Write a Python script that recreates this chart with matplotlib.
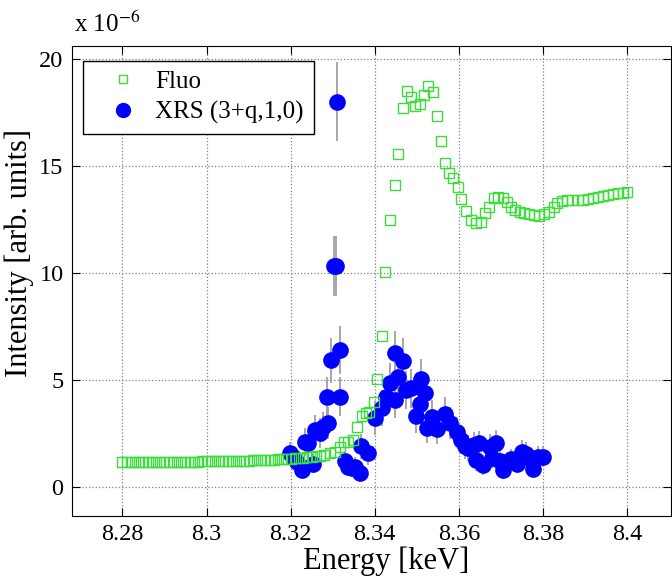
import matplotlib
matplotlib.use("Agg")
import matplotlib.pyplot as plt
from matplotlib.lines import Line2D

plt.rcParams['font.family'] = ['Liberation Serif', 'DejaVu Serif']
plt.rcParams['mathtext.fontset'] = 'stix'

# fluorescence yield (x 1e-6), energies in keV
fluo_e = [8.280, 8.281, 8.282, 8.283, 8.284, 8.285, 8.286, 8.287, 8.288, 8.289,
          8.290, 8.291, 8.292, 8.293, 8.294, 8.295, 8.296, 8.297, 8.298, 8.299,
          8.300, 8.301, 8.302, 8.303, 8.304, 8.305, 8.306, 8.307, 8.308, 8.309,
          8.310, 8.311, 8.312, 8.313, 8.314, 8.315, 8.316, 8.317, 8.318, 8.319,
          8.320, 8.321, 8.322, 8.323, 8.324, 8.325, 8.326, 8.327, 8.328,
          8.3294, 8.3305, 8.3317, 8.3327, 8.3337, 8.3349, 8.3357, 8.3369, 8.3378,
          8.3387, 8.3398, 8.3405, 8.3416, 8.3424, 8.3436, 8.3448, 8.3456, 8.3467,
          8.3477, 8.3486, 8.3496, 8.3507, 8.3518, 8.3527, 8.3538, 8.3548, 8.3558,
          8.3568, 8.3576, 8.3586, 8.3597, 8.3606, 8.3617, 8.3629, 8.3640, 8.3652,
          8.3662, 8.3672, 8.3684, 8.3693, 8.3704, 8.3714, 8.3724, 8.3734, 8.3745,
          8.3755, 8.3767, 8.3779, 8.3791, 8.3802, 8.3814, 8.3825, 8.3834, 8.3846,
          8.3858, 8.3870, 8.3882, 8.3894, 8.3906, 8.3918, 8.3930, 8.3942, 8.3954,
          8.3966, 8.3978, 8.3990, 8.3999]
fluo_i = [1.15, 1.15, 1.16, 1.15, 1.16, 1.16, 1.17, 1.16, 1.17, 1.17,
          1.17, 1.18, 1.17, 1.18, 1.18, 1.18, 1.19, 1.19, 1.19, 1.20,
          1.20, 1.20, 1.21, 1.21, 1.21, 1.22, 1.22, 1.23, 1.23, 1.24,
          1.24, 1.25, 1.25, 1.26, 1.27, 1.27, 1.28, 1.29, 1.30, 1.31,
          1.32, 1.34, 1.35, 1.37, 1.39, 1.41, 1.44, 1.47, 1.51,
          1.57, 1.65, 1.88, 2.10, 2.12, 2.20, 2.82, 3.32, 3.46,
          3.52, 3.99, 5.03, 7.07, 10.05, 12.48, 14.11, 15.56, 17.70,
          18.49, 18.24, 17.80, 17.90, 18.32, 18.75, 18.46, 17.34, 16.17,
          15.13, 14.66, 14.43, 14.00, 13.44, 12.91, 12.48, 12.32, 12.40,
          12.79, 13.10, 13.49, 13.54, 13.49, 13.33, 13.10, 12.94, 12.87,
          12.82, 12.76, 12.71, 12.68, 12.76, 12.87, 13.07, 13.26, 13.38,
          13.40, 13.41, 13.41, 13.43, 13.45, 13.48, 13.53, 13.60, 13.64,
          13.68, 13.72, 13.75, 13.76]

# resonant scattering (3+q,1,0) with error bars
xrs_e = [8.3198, 8.3206, 8.3214, 8.3226, 8.3233, 8.3241, 8.3252, 8.3257, 8.3269,
         8.3277, 8.3287, 8.3289, 8.3297, 8.3302, 8.3309, 8.3310, 8.3317, 8.3317,
         8.3329, 8.3337, 8.3345, 8.3352, 8.3364, 8.3368, 8.3384, 8.3400, 8.3416,
         8.3426, 8.3436, 8.3448, 8.3448, 8.3456, 8.3467, 8.3475, 8.3487, 8.3497,
         8.3507, 8.3509, 8.3519, 8.3525, 8.3536, 8.3548, 8.3568, 8.3579, 8.3595,
         8.3606, 8.3614, 8.3621, 8.3635, 8.3640, 8.3648, 8.3657, 8.3674, 8.3678,
         8.3688, 8.3698, 8.3706, 8.3723, 8.3739, 8.3749, 8.3760, 8.3768, 8.3777,
         8.3789, 8.3801]
xrs_i = [1.57, 1.42, 1.18, 0.79, 2.12, 2.04, 1.10, 2.66, 2.51,
         2.82, 4.22, 3.00, 5.93, 10.33, 10.33, 18.00, 6.40, 4.22,
         1.20, 0.95, 0.87, 0.95, 0.66, 1.90, 1.57, 3.22, 3.69,
         4.22, 4.86, 6.25, 4.07, 5.14, 5.90, 4.53, 4.61, 3.32,
         3.86, 5.05, 4.41, 2.74, 3.26, 2.70, 3.40, 2.98, 2.58,
         2.20, 1.90, 1.81, 1.96, 1.26, 2.04, 1.03, 1.88, 1.38,
         2.05, 1.22, 0.79, 1.30, 1.10, 1.65, 1.55, 1.34, 0.85,
         1.42, 1.42]
xrs_err = [0.55, 0.5, 0.5, 0.4, 0.65, 0.6, 0.45, 0.7, 0.7,
           0.7, 0.9, 0.75, 1.05, 1.4, 1.4, 1.85, 1.1, 0.9,
           0.5, 0.45, 0.4, 0.45, 0.35, 0.6, 0.55, 0.8, 0.85,
           0.9, 0.95, 1.05, 0.85, 1.0, 1.05, 0.9, 0.9, 0.8,
           0.85, 0.95, 0.9, 0.7, 0.8, 0.7, 0.8, 0.75, 0.7,
           0.65, 0.6, 0.6, 0.6, 0.5, 0.6, 0.45, 0.6, 0.5,
           0.6, 0.5, 0.4, 0.5, 0.45, 0.55, 0.55, 0.5, 0.4,
           0.5, 0.5]

fig = plt.figure(figsize=(6.72, 5.83), dpi=100)
ax = fig.add_axes([0.107, 0.115, 0.892, 0.806])

ax.errorbar(xrs_e, xrs_i, yerr=xrs_err, fmt='none', ecolor='#a0a0a0',
            elinewidth=1.3, capsize=0, zorder=2)
ax.plot(xrs_e, xrs_i, 'o', color='#0000ff', markersize=12, markeredgewidth=0,
        zorder=3)
ax.plot(fluo_e, fluo_i, 's', markerfacecolor='none', markeredgecolor='#3ddc3d',
        markersize=7.5, markeredgewidth=1.0, zorder=4)

ax.set_xlim(8.268, 8.4105)
ax.set_ylim(-1.35, 20.6)
ax.set_xticks([8.28, 8.30, 8.32, 8.34, 8.36, 8.38, 8.40])
ax.set_xticklabels(['8.28', '8.3', '8.32', '8.34', '8.36', '8.38', '8.4'])
ax.set_yticks([0, 5, 10, 15, 20])
ax.tick_params(direction='in', top=True, right=True, length=6, labelsize=17.5,
               pad=6)
ax.grid(True, linestyle=':', color='#808080', linewidth=0.9)
ax.set_axisbelow(True)
ax.set_xlabel('Energy [keV]', fontsize=22)
ax.xaxis.set_label_coords(0.524, -0.066)
ax.set_ylabel('Intensity [arb. units]', fontsize=22)
ax.yaxis.set_label_coords(-0.063, 0.56)
fig.text(0.11, 0.945, r'x 10$^{-6}$', fontsize=18)

handles = [Line2D([], [], marker='s', linestyle='none', markerfacecolor='none',
                  markeredgecolor='#3ddc3d', markersize=6),
           Line2D([], [], marker='o', linestyle='none', color='#0000ff',
                  markersize=10)]
leg = ax.legend(handles, ['Fluo', 'XRS (3+q,1,0)'], loc='upper left',
                bbox_to_anchor=(0.018, 0.969), borderaxespad=0, fontsize=18,
                fancybox=False, edgecolor='black', framealpha=1,
                borderpad=0.4, handlelength=2.4, handletextpad=0.1,
                labelspacing=0.3)
leg.get_frame().set_linewidth(1.0)

fig.savefig('out.png', dpi=100)
